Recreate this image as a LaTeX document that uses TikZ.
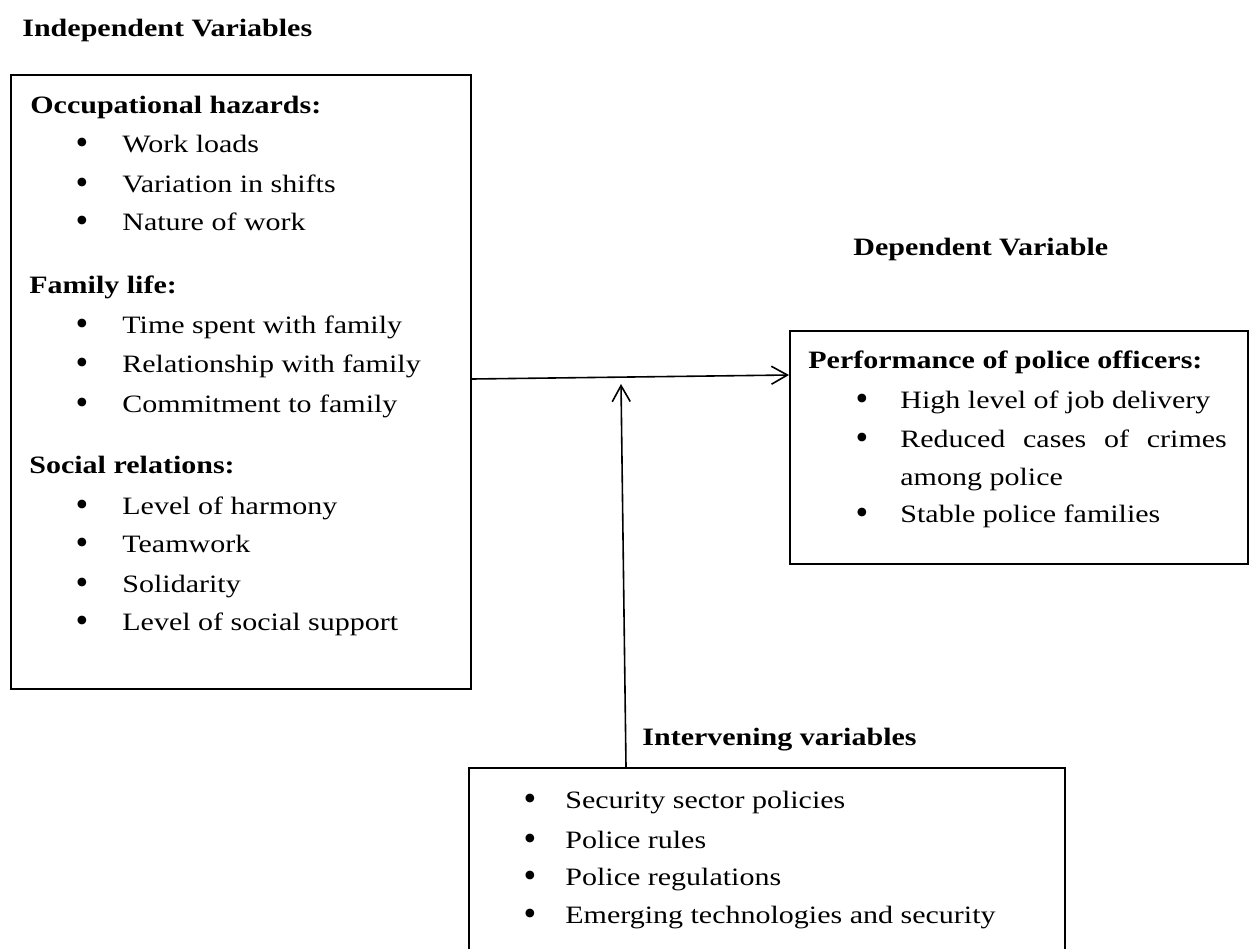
\documentclass[tikz,border=0pt]{standalone}
\usepackage{fontspec}
\setmainfont{Liberation Serif}
\usepackage{graphicx}
\usetikzlibrary{arrows.meta,calc}
\newcommand{\xstr}[1]{\scalebox{1.2}[1]{#1}}
\newcommand{\bigbul}{\raisebox{-1.3pt}{\scalebox{1.45}{\textbullet}}}
\begin{document}
\begin{tikzpicture}[x=0.5pt,y=-0.5pt,
  box/.style={draw, line width=0.9pt, anchor=north west, inner sep=0pt},
  txt/.style={anchor=base west, inner sep=0pt, font=\fontsize{12.5pt}{15pt}\selectfont},
  bul/.style={anchor=base, inner sep=0pt, font=\fontsize{12.5pt}{15pt}\selectfont},
  arr/.style={line width=0.8pt, -{Straight Barb[length=8pt,width=9pt]}}]
\useasboundingbox (0,0) rectangle (1251,948);
\clip (0,0) rectangle (1251,948);
\fill[white] (0,0) rectangle (1251,948);

% boxes
\node[box, minimum width=230pt, minimum height=307pt] (indep) at (10,74) {};
\node[box, minimum width=229pt, minimum height=116.5pt] (dep) at (789,330) {};
\node[box, minimum width=298pt, minimum height=110pt] (interv) at (468,767) {};

% left box text
\node[txt] (tIV) at (22,36) {\xstr{\textbf{Independent Variables}}};
\node[txt] (h1) at (30,113) {\xstr{\textbf{Occupational hazards:}}};
\node[bul] (b11) at (82,152) {\bigbul};
\node[txt] (i11) at (122,152) {\xstr{Work loads}};
\node[bul] (b12) at (82,192) {\bigbul};
\node[txt] (i12) at (122,192) {\xstr{Variation in shifts}};
\node[bul] (b13) at (82,230) {\bigbul};
\node[txt] (i13) at (122,230) {\xstr{Nature of work}};
\node[txt] (h2) at (29,293) {\xstr{\textbf{Family life:}}};
\node[bul] (b21) at (82,333) {\bigbul};
\node[txt] (i21) at (122,333) {\xstr{Time spent with family}};
\node[bul] (b22) at (82,372) {\bigbul};
\node[txt] (i22) at (122,372) {\xstr{Relationship with family}};
\node[bul] (b23) at (82,412) {\bigbul};
\node[txt] (i23) at (122,412) {\xstr{Commitment to family}};
\node[txt] (h3) at (29,473) {\xstr{\textbf{Social relations:}}};
\node[bul] (b31) at (82,514) {\bigbul};
\node[txt] (i31) at (122,514) {\xstr{Level of harmony}};
\node[bul] (b32) at (82,552) {\bigbul};
\node[txt] (i32) at (122,552) {\xstr{Teamwork}};
\node[bul] (b33) at (82,592) {\bigbul};
\node[txt] (i33) at (122,592) {\xstr{Solidarity}};
\node[bul] (b34) at (82,630) {\bigbul};
\node[txt] (i34) at (122,630) {\xstr{Level of social support}};

% right box text
\node[txt] (tDV) at (853,255) {\xstr{\textbf{Dependent Variable}}};
\node[txt] (h4) at (808,368) {\xstr{\textbf{Performance of police officers:}}};
\node[bul] (b41) at (862,408) {\bigbul};
\node[txt] (i41) at (900,408) {\xstr{High level of job delivery}};
\node[bul] (b42) at (862,447) {\bigbul};
\node[txt] (i42) at (900,447) {\xstr{\makebox[136pt][s]{Reduced cases of crimes}}};
\node[txt] (i42b) at (900,485) {\xstr{among police}};
\node[bul] (b43) at (862,522) {\bigbul};
\node[txt] (i43) at (900,522) {\xstr{Stable police families}};

% intervening text
\node[txt] (tIN) at (642,745) {\xstr{\textbf{Intervening variables}}};
\node[bul] (b51) at (530,808) {\bigbul};
\node[txt] (i51) at (565,808) {\xstr{Security sector policies}};
\node[bul] (b52) at (530,848) {\bigbul};
\node[txt] (i52) at (565,848) {\xstr{Police rules}};
\node[bul] (b53) at (530,885) {\bigbul};
\node[txt] (i53) at (565,885) {\xstr{Police regulations}};
\node[bul] (b54) at (530,923) {\bigbul};
\node[txt] (i54) at (565,923) {\xstr{Emerging technologies and security}};

% connectors
\coordinate (meet) at (621,384);
\draw[arr] ($(indep.north east)+(0,305)$) -- ($(dep.north west)+(0,45)$);
\draw[arr] ($(interv.north west)+(158,0)$) -- (meet);
\end{tikzpicture}
\end{document}
